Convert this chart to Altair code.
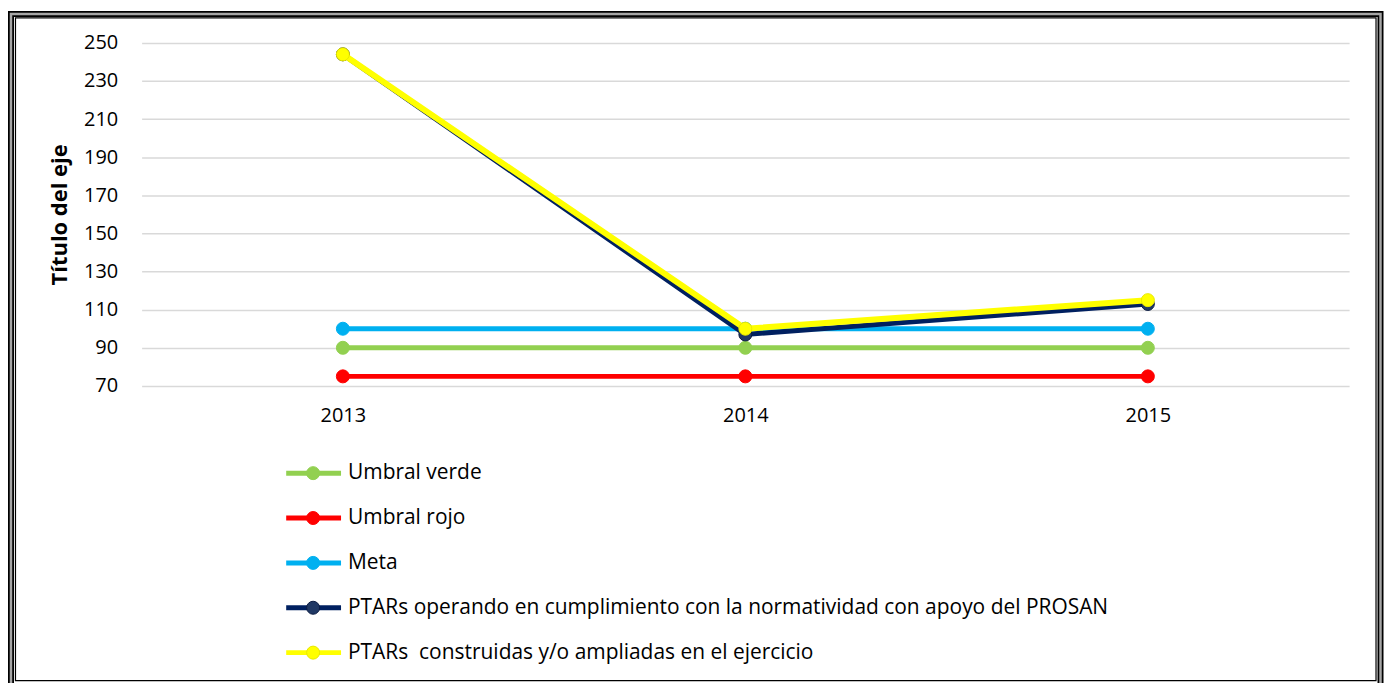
import altair as alt
import pandas as pd

years = ["2013", "2014", "2015"]
series_names = [
    "Umbral verde",
    "Umbral rojo",
    "Meta",
    "PTARs operando en cumplimiento con la normatividad con apoyo del PROSAN",
    "PTARs\u00a0 construidas y/o ampliadas en el ejercicio",
]
umbral_verde = [90, 90, 90]
umbral_rojo = [75, 75, 75]
meta = [100, 100, 100]
ptars_operando = [244, 97, 113]
ptars_construidas = [244, 100, 115]
series_values = [umbral_verde, umbral_rojo, meta, ptars_operando, ptars_construidas]

line_colors = ["#92D050", "#FF0000", "#00B0F0", "#002060", "#FFFF00"]
point_fills = ["#92D050", "#FF0000", "#00B0F0", "#203864", "#FFFF00"]
point_strokes = ["#92D050", "#FF0000", "#00B0F0", "#0A1A40", "#E8E800"]
y_ticks = [70, 90, 110, 130, 150, 170, 190, 210, 230, 250]

FONT = "Open Sans"
W, H = 1211, 344

x_enc = alt.X(
    "year:O",
    title=None,
    scale=alt.Scale(type="point", padding=0.5),
    axis=alt.Axis(labelAngle=0, ticks=False, domain=False, grid=False,
                  labelPadding=20, labelFontSize=20, labelColor="#000000", labelFont=FONT),
)
y_enc = alt.Y(
    "value:Q",
    title="Título del eje",
    scale=alt.Scale(domain=[70, 250], nice=False, zero=False),
    axis=alt.Axis(values=y_ticks, ticks=False, domain=False, gridColor="#D9D9D9", gridWidth=1.5,
                  labelPadding=24, labelFontSize=20, labelColor="#000000", labelFont=FONT,
                  titleFont=FONT, titleFontSize=22, titleFontWeight="bold", titleColor="#000000",
                  titlePadding=12),
)

layers = []
for i, (name, vals) in enumerate(zip(series_names, series_values)):
    df = pd.DataFrame({"year": years, "value": vals, "serie": name})
    base = alt.Chart(df)
    line = base.mark_line(color=line_colors[i], strokeWidth=5 if i < 4 else 6).encode(x=x_enc, y=y_enc)
    pts = base.mark_point(filled=True, size=170, fill=point_fills[i], stroke=point_strokes[i],
                          strokeWidth=1, opacity=1, shape="circle").encode(x=x_enc, y=y_enc)
    layers += [line, pts]

frame_df = pd.DataFrame({"f": [0]})
frame_outer = alt.Chart(frame_df).mark_rect(filled=False, stroke="#000000", strokeWidth=6).encode(
    x=alt.value(-131), x2=alt.value(1242.5), y=alt.value(-29), y2=alt.value(650))
frame_gray = alt.Chart(frame_df).mark_rect(filled=False, stroke="#A6A6A6", strokeWidth=2.5).encode(
    x=alt.value(-131), x2=alt.value(1242.5), y=alt.value(-29), y2=alt.value(650))
frame_inner = alt.Chart(frame_df).mark_rect(filled=False, stroke="#000000", strokeWidth=1.2).encode(
    x=alt.value(-126.5), x2=alt.value(1238), y=alt.value(-25), y2=alt.value(639.5))

top = alt.layer(*layers, frame_outer, frame_gray, frame_inner).properties(width=W, height=H)

leg_df = pd.DataFrame({"serie": series_names})
leg_y = alt.Y("serie:N", sort=series_names, axis=None, scale=alt.Scale(type="point", padding=0.5))
leg_color = alt.Color("serie:N", scale=alt.Scale(domain=series_names, range=line_colors), legend=None)
leg_fill = alt.Fill("serie:N", scale=alt.Scale(domain=series_names, range=point_fills), legend=None)
leg_stroke = alt.Stroke("serie:N", scale=alt.Scale(domain=series_names, range=point_strokes), legend=None)
leg_base = alt.Chart(leg_df)
leg_rule = leg_base.mark_rule(strokeWidth=5).encode(x=alt.value(145), x2=alt.value(200), y=leg_y, color=leg_color)
leg_pt = leg_base.mark_point(filled=True, size=170, opacity=1, strokeWidth=1, shape="circle").encode(
    x=alt.value(172), y=leg_y, fill=leg_fill, stroke=leg_stroke)
leg_txt = leg_base.mark_text(align="left", baseline="middle", font=FONT, fontSize=21, color="#000000").encode(
    x=alt.value(207), y=leg_y, text="serie:N")
legend = alt.layer(leg_rule, leg_pt, leg_txt).properties(width=W, height=225)

chart = alt.vconcat(top, legend, spacing=65, bounds="flush").properties(
    padding={"left": 0, "top": 2, "right": 0, "bottom": 0},
    background="#FFFFFF",
).configure_view(strokeWidth=0)

chart.save("out.html", embed_options={"renderer": "svg", "actions": False})
